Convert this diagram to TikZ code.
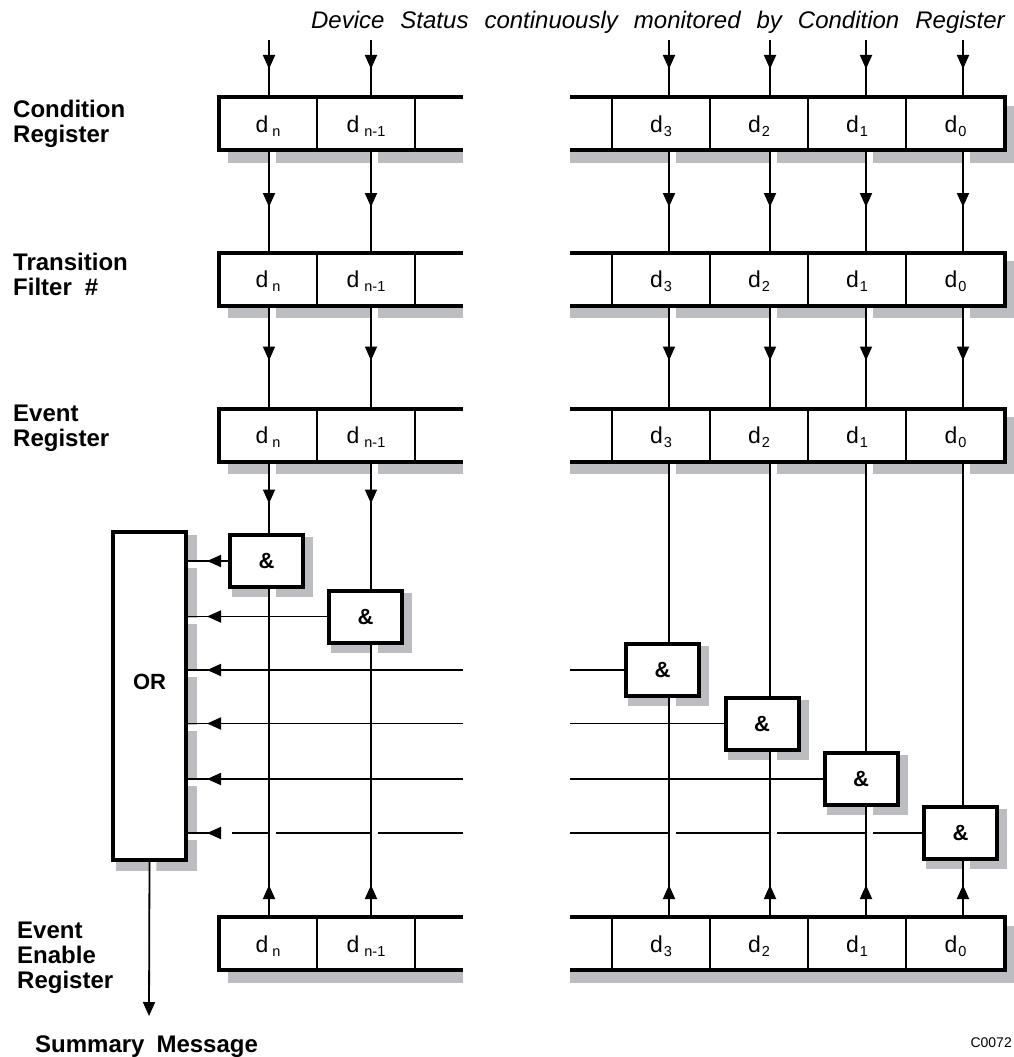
\documentclass[tikz,border=0pt]{standalone}
\usepackage{fontspec}
\setmainfont{Liberation Sans}
\usetikzlibrary{arrows.meta,decorations.markings}
\pgfdeclarelayer{shadowlayer}
\pgfdeclarelayer{halolayer}
\pgfsetlayers{shadowlayer,halolayer,main}
\definecolor{shadegray}{HTML}{BCBDC0}

\newcommand\dcell[2]{{\fontsize{23}{23}\selectfont d}\kern#1\raisebox{-4pt}{\fontsize{14.5}{14.5}\selectfont #2}}
\newcommand\titlefont{\fontsize{24}{24}\selectfont\itshape\spaceskip=16pt\relax}
\newcommand\summfont{\fontsize{24}{24}\selectfont\bfseries\spaceskip=12pt\relax}

\newcommand\RegRow[2]{%
  \begin{pgfonlayer}{shadowlayer}
    \fill[shadegray] (228,#2-18) rectangle (463,#2+39);
    \fill[shadegray] (570,#2-18) rectangle (1018,#2+39);
  \end{pgfonlayer}
  \fill[white] (219,#2-26.5) rectangle (463,#2+26.5);
  \fill[white] (570,#2-26.5) rectangle (1005,#2+26.5);
  \foreach \xx in {317,415,612,710,808,906} \draw[divider] (\xx,#2-26.5) -- (\xx,#2+26.5);
  \draw[regframe] (463,#2-26.5) -- (219,#2-26.5) -- (219,#2+26.5) -- (463,#2+26.5);
  \draw[regframe] (570,#2-26.5) -- (1005,#2-26.5) -- (1005,#2+26.5) -- (570,#2+26.5);
  \node[cell] (#1-n) at (268,#2+8.5) {\dcell{4pt}{n}};
  \node[cell] (#1-m) at (366,#2+8.5) {\dcell{5pt}{n-1}};
  \node[cell] (#1-3) at (661,#2+8.5) {\dcell{1pt}{3}};
  \node[cell] (#1-2) at (759,#2+8.5) {\dcell{1pt}{2}};
  \node[cell] (#1-1) at (857,#2+8.5) {\dcell{1pt}{1}};
  \node[cell] (#1-0) at (955.5,#2+8.5) {\dcell{1pt}{0}};
  \foreach \kk/\px in {n/269,m/371,3/669,2/770,1/866,0/963}{
    \coordinate (#1-\kk-t) at (\px,#2-28.5);
    \coordinate (#1-\kk-b) at (\px,#2+28.5);
  }%
}

\newcommand\VLink[3][]{%
  \begin{pgfonlayer}{halolayer}\draw[halo,transform canvas={xshift=4pt}] (#2) -- (#3);\end{pgfonlayer}
  \draw[conn,#1] (#2) -- (#3);}
\newcommand\HLink[3][]{%
  \begin{pgfonlayer}{halolayer}\draw[halo,transform canvas={yshift=-4pt}] (#2) -- (#3);\end{pgfonlayer}
  \draw[conn,#1] (#2) -- (#3);}

\begin{document}
\begin{tikzpicture}[x=1pt,y=-1pt,
  conn/.style={line width=1.8pt,black},
  halo/.style={white,line width=6pt},
  regframe/.style={line width=4pt,line join=miter},
  divider/.style={line width=2pt},
  cell/.style={inner sep=0pt,anchor=base},
  gate/.style={draw,line width=4pt,fill=white,minimum width=73pt,minimum height=52pt,inner sep=0pt,
    font=\fontsize{22}{22}\selectfont\bfseries},
  orbox/.style={draw,line width=4pt,fill=white,minimum width=73pt,minimum height=328pt,inner sep=0pt},
  label/.style={inner sep=0pt,anchor=north west,align=left,font=\fontsize{24}{25}\selectfont\bfseries},
  marr/.style={postaction={decorate},decoration={markings,
    mark=at position #1 with {\arrow{Triangle[length=14pt,width=12pt]}}}},
  tipend/.style={-{Triangle[length=14pt,width=12pt]}}
]
\useasboundingbox (0,0) rectangle (1014,1057);

% registers
\RegRow{cnd}{123.5}
\RegRow{trn}{279}
\RegRow{evt}{435}
\RegRow{ena}{943.5}

% gates and OR
\node[gate] (g1) at (266.5,561) {\&};
\node[gate] (g2) at (365.5,616.5) {\&};
\node[gate] (g3) at (662.5,670) {\&};
\node[gate] (g4) at (762,723.5) {\&};
\node[gate] (g5) at (861,779) {\&};
\node[gate] (g6) at (960.5,833) {\&};
\node[orbox] (or) at (149.5,696) {};
\node[inner sep=0pt,font=\fontsize{22}{22}\selectfont\bfseries] (ortext) at (149.5,682) {OR};

\begin{pgfonlayer}{shadowlayer}
  \foreach \g in {g1,g2,g3,g4,g5,g6}
    \fill[shadegray] ([shift={(4,8)}]\g.south west) rectangle ([shift={(8,4)}]\g.north east);
  \fill[shadegray] ([shift={(5,9)}]or.south west) rectangle ([shift={(9,5)}]or.north east);
\end{pgfonlayer}

% labels
\node[label] (lcnd) at (13,99.5) {Condition\\Register};
\node[label] (ltrn) at (13,253) {Transition\\Filter\hspace{13pt}\#};
\node[label] (levt) at (13,405) {Event\\Register};
\node[label] (lena) at (17,922) {Event\\Enable\\Register};
\node[inner sep=0pt,anchor=base east,font=\titlefont] (title) at (1005,29)
  {Device Status continuously monitored by Condition Register};
\node[inner sep=0pt,anchor=base west,font=\summfont] (summ) at (35,1052)
  {Summary Message};
\node[inner sep=0pt,anchor=base east,font=\fontsize{14}{14}\selectfont] (code) at (1012,1047) {C0072};

% break points of the output lines
\coordinate (brL) at (463,0);
\coordinate (brR) at (570,0);
\coordinate (sum) at (149,1016);

% vertical connectors
\foreach \k/\px in {n/269,m/371,3/669,2/770,1/866,0/963}{
  \coordinate (top-\k) at (\px,40);
  \VLink[marr=29pt]{top-\k}{cnd-\k-t}
  \VLink[marr=55pt]{cnd-\k-b}{trn-\k-t}
  \VLink[marr=53pt]{trn-\k-b}{evt-\k-t}
}
\VLink[marr=40pt]{evt-n-b}{evt-n-b |- g1.north}
\VLink[marr=40pt]{evt-m-b}{evt-m-b |- g2.north}
\VLink{evt-3-b}{evt-3-b |- g3.north}
\VLink{evt-2-b}{evt-2-b |- g4.north}
\VLink{evt-1-b}{evt-1-b |- g5.north}
\VLink{evt-0-b}{evt-0-b |- g6.north}
\VLink[marr=30pt]{ena-n-t}{ena-n-t |- g1.south}
\VLink[marr=30pt]{ena-m-t}{ena-m-t |- g2.south}
\VLink[marr=30pt]{ena-3-t}{ena-3-t |- g3.south}
\VLink[marr=30pt]{ena-2-t}{ena-2-t |- g4.south}
\VLink[marr=30pt]{ena-1-t}{ena-1-t |- g5.south}
\VLink[marr=30pt]{ena-0-t}{ena-0-t |- g6.south}
\VLink[tipend]{or.south}{sum}

% horizontal connectors to OR
\HLink[marr=-19pt]{g1.west}{g1.west -| or.east}
\HLink[marr=-19pt]{g2.west}{g2.west -| or.east}
\HLink{g3.west}{g3.west -| brR}
\HLink[marr=-19pt]{g3.west -| brL}{g3.west -| or.east}
\HLink{g4.west}{g4.west -| brR}
\HLink[marr=-19pt]{g4.west -| brL}{g4.west -| or.east}
\HLink{g5.west}{g5.west -| brR}
\HLink[marr=-19pt]{g5.west -| brL}{g5.west -| or.east}
% last row lies under the halos of the vertical lines
\begin{pgfonlayer}{shadowlayer}
  \draw[conn] (g6.west) -- (g6.west -| brR);
  \draw[conn] (g6.west -| brL) -- (g6.west -| or.east);
\end{pgfonlayer}
\begin{pgfonlayer}{halolayer}
  \draw[halo,transform canvas={yshift=-4pt}] (g6.west -| brL) -- (g6.west -| or.east);
  \fill[white] (221,829.5) rectangle (232,836.5);
\end{pgfonlayer}
\path[conn,marr=-19pt] (g6.west -| brL) -- (g6.west -| or.east);
\end{tikzpicture}
\end{document}
